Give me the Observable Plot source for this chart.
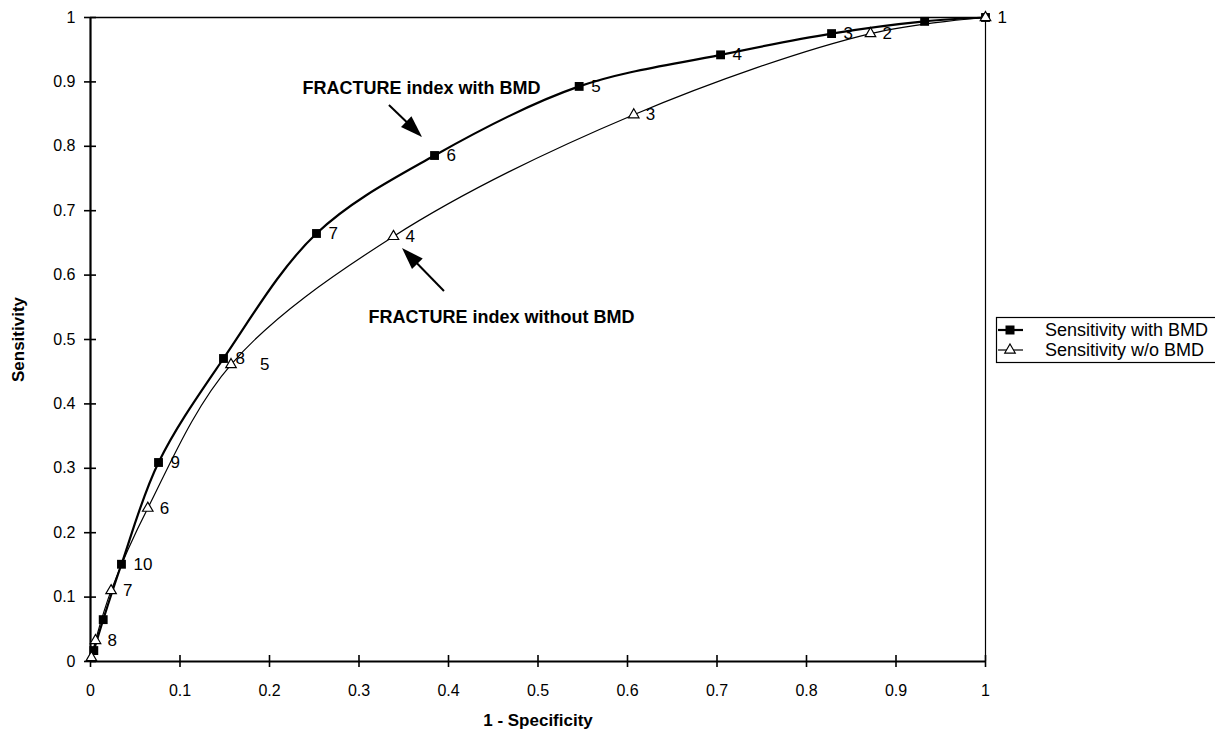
<!DOCTYPE html>
<html><head><meta charset="utf-8">
<script src="https://cdn.jsdelivr.net/npm/d3@7"></script>
<script src="https://cdn.jsdelivr.net/npm/@observablehq/plot@0.6"></script>
<style>
body{margin:0;background:#fff;}
#chart{width:1215px;height:730px;}
</style></head><body><div id="chart"></div>
<script>
// ---- data ----
const xTicks = [0, 0.1, 0.2, 0.3, 0.4, 0.5, 0.6, 0.7, 0.8, 0.9, 1];
const xTickLabels = ["0", "0.1", "0.2", "0.3", "0.4", "0.5", "0.6", "0.7", "0.8", "0.9", "1"];
const yTicks = [0, 0.1, 0.2, 0.3, 0.4, 0.5, 0.6, 0.7, 0.8, 0.9, 1];
const yTickLabels = ["0", "0.1", "0.2", "0.3", "0.4", "0.5", "0.6", "0.7", "0.8", "0.9", "1"];

// Sensitivity with BMD (filled squares)
const specWith  = [0.0037, 0.0142, 0.0346, 0.076, 0.1486, 0.2525, 0.3844, 0.546, 0.704, 0.828, 0.932, 1];
const sensWith  = [0.017, 0.065, 0.151, 0.309, 0.4705, 0.6646, 0.7857, 0.893, 0.942, 0.975, 0.994, 1];
const labelWith = ["", "", "10", "9", "8", "7", "6", "5", "4", "3", "", ""];

// Sensitivity w/o BMD (open triangles)
const specWo  = [0.001, 0.0056, 0.023, 0.064, 0.157, 0.3385, 0.607, 0.8715, 1];
const sensWo  = [0.006, 0.0326, 0.11, 0.238, 0.461, 0.66, 0.849, 0.975, 1];
const labelWo = ["", "8", "7", "6", "5", "4", "3", "2", "1"];

const seriesNames = ["Sensitivity with BMD", "Sensitivity w/o BMD"];
const annotTexts = ["FRACTURE index with BMD", "FRACTURE index without BMD"];
const annotX = [0.2369, 0.3106];
const annotY = [0.8898, 0.5342];
// arrows: tail -> tip
const arrowX1 = [0.334, 0.3955];
const arrowY1 = [0.8634, 0.5745];
const arrowX2 = [0.371, 0.3486];
const arrowY2 = [0.8137, 0.6413];

const xTitle = "1 - Specificity";
const yTitle = "Sensitivity";

// ---- build tables ----
const withData = specWith.map((x, i) => ({x, y: sensWith[i], label: labelWith[i]}));
const woData = specWo.map((x, i) => ({x, y: sensWo[i], label: labelWo[i]}));
const annots = annotTexts.map((t, i) => ({t, x: annotX[i], y: annotY[i]}));

const FONT = "'Liberation Sans', Arial, Helvetica, sans-serif";

const plot = Plot.plot({
  width: 1215, height: 730,
  marginLeft: 90, marginRight: 230, marginTop: 17, marginBottom: 69,
  x: {domain: [0, 1]},
  y: {domain: [0, 1]},
  style: {fontFamily: FONT, fontSize: "16px", color: "#000", background: "#fff", overflow: "visible"},
  marks: [
    Plot.axisX({ticks: xTicks, tickFormat: d => xTickLabels[xTicks.indexOf(d)], tickSize: 0, tickPadding: 23, label: null, fontSize: 16}),
    Plot.axisY({ticks: yTicks, tickFormat: d => yTickLabels[yTicks.indexOf(d)], tickSize: 0, tickPadding: 15, label: null, fontSize: 16}),
    // frame
    Plot.ruleY([1], {stroke: "#000", strokeWidth: 1.6}),
    Plot.ruleX([1], {stroke: "#000", strokeWidth: 1.2}),
    Plot.ruleY([0], {stroke: "#000", strokeWidth: 2.2}),
    Plot.ruleX([0], {stroke: "#000", strokeWidth: 2.2}),
    // cross ticks
    Plot.ruleX(xTicks, {x: d => d, y1: 0, y2: 0, insetTop: -6, insetBottom: -6, stroke: "#000", strokeWidth: 1.6}),
    Plot.ruleY(yTicks, {y: d => d, x1: 0, x2: 0, insetLeft: -6, insetRight: -6, stroke: "#000", strokeWidth: 1.6}),
    // axis titles
    Plot.text([xTitle], {frameAnchor: "bottom", dy: 59, text: d => d, fontWeight: "bold", fontSize: 17, textAnchor: "middle", lineAnchor: "middle"}),
    Plot.text([yTitle], {frameAnchor: "left", dx: -72, rotate: -90, text: d => d, fontWeight: "bold", fontSize: 17, textAnchor: "middle", lineAnchor: "middle"}),
    // series lines
    Plot.line(withData, {x: "x", y: "y", curve: "catmull-rom", stroke: "#000", strokeWidth: 2.2}),
    Plot.line(woData, {x: "x", y: "y", curve: "catmull-rom", stroke: "#000", strokeWidth: 1.2}),
    // markers
    Plot.dot(withData, {x: "x", y: "y", symbol: "square", r: 5, fill: "#000", stroke: "none"}),
    Plot.dot(woData, {x: "x", y: "y", symbol: "triangle", r: 3.9, fill: "#fff", stroke: "#000", strokeWidth: 1.2}),
    // point labels
    Plot.text(withData.filter(d => d.label), {x: "x", y: "y", text: "label", dx: 12, textAnchor: "start", lineAnchor: "middle", fontSize: 17}),
    Plot.text(woData.filter(d => d.label && d.label !== "5"), {x: "x", y: "y", text: "label", dx: 12, textAnchor: "start", lineAnchor: "middle", fontSize: 17}),
    Plot.text(woData.filter(d => d.label === "5"), {x: "x", y: "y", text: "label", dx: 29, textAnchor: "start", lineAnchor: "middle", fontSize: 17}),
    // annotations
    Plot.text(annots, {x: "x", y: "y", text: "t", textAnchor: "start", lineAnchor: "middle", fontWeight: "bold", fontSize: 18})
  ]
});
document.getElementById("chart").appendChild(plot);

// ---- arrows (through the plot's scales) ----
const sx = plot.scale("x"), sy = plot.scale("y");
const svg = d3.select(plot);
const ag = svg.append("g");
arrowX1.forEach((_, i) => {
  const x1 = sx.apply(arrowX1[i]), y1 = sy.apply(arrowY1[i]);
  const x2 = sx.apply(arrowX2[i]), y2 = sy.apply(arrowY2[i]);
  const dx = x2 - x1, dy = y2 - y1, L = Math.hypot(dx, dy);
  const ux = dx / L, uy = dy / L, px = -uy, py = ux;
  const hl = 22, hw = 7.5;
  const bx = x2 - ux * hl, by = y2 - uy * hl;
  ag.append("line").attr("x1", x1).attr("y1", y1).attr("x2", bx + ux * 2).attr("y2", by + uy * 2)
    .attr("stroke", "#000").attr("stroke-width", 2);
  ag.append("path").attr("d", `M${x2},${y2}L${bx + px * hw},${by + py * hw}L${bx - px * hw},${by - py * hw}Z`)
    .attr("fill", "#000");
});

// ---- legend ----
const lg = svg.append("g").attr("font-family", FONT).attr("font-size", 18).attr("text-anchor", "start");
lg.append("rect").attr("x", 996.5).attr("y", 317.5).attr("width", 222).attr("height", 45)
  .attr("fill", "#fff").attr("stroke", "#000").attr("stroke-width", 1.2);
const rowsY = [330, 350];
seriesNames.forEach((name, i) => {
  const y = rowsY[i];
  lg.append("line").attr("x1", 998).attr("x2", 1023).attr("y1", y).attr("y2", y)
    .attr("stroke", "#000").attr("stroke-width", i === 0 ? 2.2 : 1.2);
  if (i === 0) {
    lg.append("rect").attr("x", 1005.5).attr("y", y - 4.5).attr("width", 9).attr("height", 9).attr("fill", "#000");
  } else {
    lg.append("path").attr("d", d3.symbol(d3.symbolTriangle, 3.9 * 3.9 * Math.PI)()).attr("transform", `translate(1010,${y})`)
      .attr("fill", "#fff").attr("stroke", "#000").attr("stroke-width", 1.2);
  }
  lg.append("text").attr("x", 1045).attr("y", y).attr("dy", "0.35em").attr("text-anchor", "start").text(name);
});
</script></body></html>
